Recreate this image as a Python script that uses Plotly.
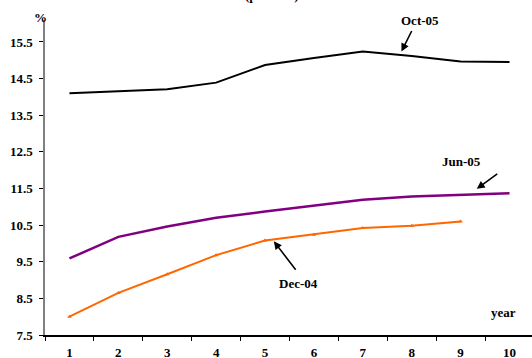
import plotly.graph_objects as go

# Maturity in years (category axis)
years = ["1", "2", "3", "4", "5", "6", "7", "8", "9", "10"]

# Yield curves, per cent
oct05 = [14.10, 14.15, 14.21, 14.39, 14.87, 15.06, 15.24, 15.12, 14.97, 14.95]
jun05 = [9.59, 10.18, 10.46, 10.70, 10.87, 11.03, 11.19, 11.28, 11.32, 11.37]
dec04 = [8.00, 8.65, 9.16, 9.68, 10.08, 10.24, 10.42, 10.48, 10.60]

y_ticks = [7.5, 8.5, 9.5, 10.5, 11.5, 12.5, 13.5, 14.5, 15.5]
y_labels = ["7.5", "8.5", "9.5", "10.5", "11.5", "12.5", "13.5", "14.5", "15.5"]

FONT = "Liberation Serif"

fig = go.Figure()
fig.add_trace(go.Scatter(x=years, y=oct05, mode="lines",
                         line=dict(color="#000000", width=2), name="Oct-05"))
fig.add_trace(go.Scatter(x=years, y=jun05, mode="lines",
                         line=dict(color="#800080", width=2.5), name="Jun-05"))
fig.add_trace(go.Scatter(x=years[:len(dec04)], y=dec04, mode="lines+markers",
                         line=dict(color="#FF6600", width=2),
                         marker=dict(symbol="triangle-up", size=4, color="#FF6600"),
                         name="Dec-04"))

label_font = dict(family=FONT, size=13, color="#000000")

annotations = [
    # series labels
    dict(x=420, y=20, xref="paper", yref="paper", text="<b>Oct-05</b>", showarrow=False),
    dict(x=461, y=162, xref="paper", yref="paper", text="<b>Jun-05</b>", showarrow=False),
    dict(x=298, y=283, xref="paper", yref="paper", text="<b>Dec-04</b>", showarrow=False),
    # axis captions
    dict(x=40, y=17, xref="paper", yref="paper", text="<b>%</b>", showarrow=False),
    dict(x=503, y=312, xref="paper", yref="paper", text="<b>year</b>", showarrow=False),
    dict(x=272, y=-5, xref="paper", yref="paper", text="<b>(per cent)</b>", showarrow=False),
]

# convert pixel-placed text annotations to paper coordinates
W, H = 532, 358
L, R, T, B = 45, 0, 20, 23
pw, ph = W - L - R, H - T - B
for a in annotations:
    a["x"] = (a["x"] - L) / pw
    a["y"] = 1 - (a["y"] - T) / ph
    a["font"] = label_font
    a["xanchor"] = "center"
    a["yanchor"] = "middle"

# pointer arrows to each curve (head on the curve, tail offset in pixels)
arrow_style = dict(showarrow=True, arrowhead=2, arrowsize=1, arrowwidth=1.6,
                   arrowcolor="#000000", text="", xref="x", yref="y")
annotations += [
    dict(x=6.79, y=15.24, ax=11, ay=-22, **arrow_style),
    dict(x=8.33, y=11.49, ax=22, ay=-16, **arrow_style),
    dict(x=4.18, y=10.06, ax=23, ay=30, **arrow_style),
]

fig.update_layout(
    width=W, height=H,
    margin=dict(l=L, r=R, t=T, b=B, pad=0, autoexpand=False),
    paper_bgcolor="white", plot_bgcolor="white",
    showlegend=False,
    font=dict(family=FONT, size=13, color="#000000"),
    annotations=annotations,
    xaxis=dict(
        type="category", range=[-0.5, 9.46],
        showgrid=False, zeroline=False, automargin=False,
        showline=True, linecolor="#000000", linewidth=1.5,
        ticks="outside", ticklen=4, tickcolor="#000000", tickwidth=1,
        tickson="boundaries", ticklabelstandoff=5,
        tickfont=dict(family=FONT, size=13, color="#000000", weight="bold"),
    ),
    yaxis=dict(
        range=[7.5, 16.1],
        tickvals=y_ticks, ticktext=y_labels,
        showgrid=False, zeroline=False, automargin=False,
        showline=True, linecolor="#808080", linewidth=1.5,
        ticks="outside", ticklen=4, tickcolor="#000000", tickwidth=1,
        ticklabelstandoff=4,
        tickfont=dict(family=FONT, size=13, color="#000000", weight="bold"),
    ),
)

fig.write_html("out.html")
